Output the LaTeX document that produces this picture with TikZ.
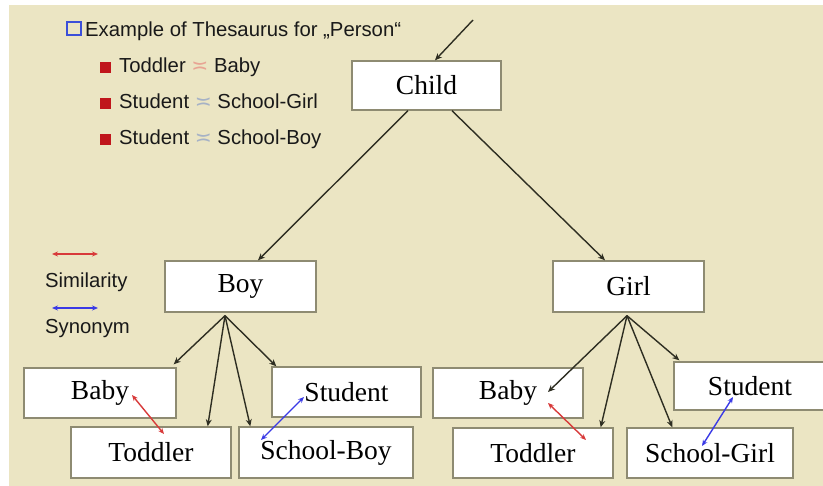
\documentclass[tikz,border=0pt]{standalone}
\usepackage{fontspec}
\setmainfont{Liberation Serif}
\newfontfamily\labelfont{Liberation Sans}
\newfontfamily\symfont{DejaVu Sans}
\usetikzlibrary{arrows.meta,calc}

\definecolor{paper}{HTML}{EBE5C3}
\definecolor{boxline}{HTML}{8E8B72}
\definecolor{linkdark}{HTML}{2E2E22}
\definecolor{simred}{HTML}{D83A3A}
\definecolor{synblue}{HTML}{3A3AE6}
\definecolor{bulletred}{HTML}{C0161C}
\definecolor{hollowblue}{HTML}{3B4FD9}
\definecolor{simfaint}{HTML}{E8A493}
\definecolor{synfaint}{HTML}{A6B2C6}

\tikzset{
  term/.style={draw=boxline, fill=white, line width=1.4pt, inner sep=0pt,
    font=\fontsize{27.5}{30}\selectfont},
  hyper/.style={draw=linkdark, line width=1.4pt,
    -{Stealth[length=7pt,width=6pt]}},
  simlink/.style={draw=simred, line width=1.4pt,
    {Stealth[length=6pt,width=5pt]}-{Stealth[length=6pt,width=5pt]}},
  synlink/.style={draw=synblue, line width=1.4pt,
    {Stealth[length=6pt,width=5pt]}-{Stealth[length=6pt,width=5pt]}},
  legendtext/.style={inner sep=0pt, anchor=base west,
    font=\labelfont\fontsize{20.3}{24}\selectfont, text=black!90},
  redbullet/.style={fill=bulletred, inner sep=0pt, minimum size=11pt, anchor=south west},
}

\begin{document}
\begin{tikzpicture}[x=1pt,y=-1pt]
  \clip (0,0) rectangle (823,486);
  \fill[white] (0,0) rectangle (823,486);
  \fill[paper] (9,5) rectangle (823,486);

  % heading and list of related terms
  \node[draw=hollowblue, line width=2pt, inner sep=0pt,
        minimum width=14pt, minimum height=13pt] (hbox) at (73.5,29) {};
  \node[legendtext] (title) at (85,36.5) {Example of Thesaurus for „Person“};

  \node[redbullet] (b1) at (100,73) {};
  \node[legendtext] (l1) at (119,73) {Toddler \textcolor{simfaint}{\symfont ≍} Baby};
  \node[redbullet] (b2) at (100,109) {};
  \node[legendtext] (l2) at (119,109) {Student \textcolor{synfaint}{\symfont ≍} School-Girl};
  \node[redbullet] (b3) at (100,145) {};
  \node[legendtext] (l3) at (119,145) {Student \textcolor{synfaint}{\symfont ≍} School-Boy};

  % key for the two kinds of links
  \coordinate (simL) at (52,254);
  \coordinate (simR) at (98,254);
  \draw[simlink] (simL) -- (simR);
  \node[legendtext] (simtext) at (45,288) {Similarity};
  \coordinate (synL) at (52,308);
  \coordinate (synR) at (98,308);
  \draw[synlink] (synL) -- (synR);
  \node[legendtext] (syntext) at (45,334) {Synonym};

  % hierarchy of terms
  \node[term, minimum width=149pt, minimum height=49pt] (child) at (426.5,85.5) {Child};
  \node[term, minimum width=151pt, minimum height=51pt] (boy)   at (240.5,286.5) {Boy};
  \node[term, minimum width=151pt, minimum height=51pt] (girl)  at (628.5,286.5) {Girl};

  \node[term, minimum width=152pt, minimum height=50pt] (babyB) at (100,393) {Baby};
  \node[term, minimum width=149pt, minimum height=50pt] (studB) at (346.5,392) {Student};
  \node[term, minimum width=160pt, minimum height=51pt] (toddB) at (151,452.5) {Toddler};
  \node[term, minimum width=174pt, minimum height=51pt] (schB)  at (326,452.5) {School-Boy};

  \node[term, minimum width=150pt, minimum height=50pt] (babyG) at (508,393) {Baby};
  \node[term, minimum width=152pt, minimum height=48pt] (studG) at (750,386) {Student};
  \node[term, minimum width=160pt, minimum height=50pt] (toddG) at (533,453) {Toddler};
  \node[term, minimum width=166pt, minimum height=50pt] (schG)  at (710,453) {School-Girl};

  % broader-term links
  \coordinate (above) at (473,20);
  \draw[hyper] (above) -- ($(child.north)+(8.5,0)$);
  \draw[hyper] ($(child.south)+(-18.5,0)$) -- ($(boy.north)+(17.5,0)$);
  \draw[hyper] ($(child.south)+(25.5,0)$) -- ($(girl.north)+(-23.5,0)$);

  \draw[hyper] ($(boy.south)+(-15.5,3)$) -- ($(babyB.north east)+(-3,-3)$);
  \draw[hyper] ($(boy.south)+(-15.5,3)$) -- ($(toddB.north east)+(-24,0)$);
  \draw[hyper] ($(boy.south)+(-15.5,3)$) -- ($(schB.north west)+(12,0)$);
  \draw[hyper] ($(boy.south)+(-15.5,3)$) -- ($(studB.north west)+(5,0)$);

  \draw[hyper] ($(girl.south)+(-1.5,3)$) -- ($(babyG.center)+(40,-1)$);
  \draw[hyper] ($(girl.south)+(-1.5,3)$) -- ($(toddG.north east)+(-13,0)$);
  \draw[hyper] ($(girl.south)+(-1.5,3)$) -- ($(schG.north west)+(46,0)$);
  \draw[hyper] ($(girl.south)+(-1.5,3)$) -- ($(studG.north west)+(6,-1)$);

  % similarity and synonym links
  \draw[simlink] ($(babyB.center)+(32,2)$) -- ($(toddB.center)+(13,-18.5)$);
  \draw[synlink] ($(studB.center)+(-42.5,5)$) -- ($(schB.center)+(-65,-12.5)$);
  \draw[simlink] ($(babyG.center)+(40,10)$) -- ($(toddG.center)+(53,-13)$);
  \draw[synlink] ($(studG.center)+(-17,11)$) -- ($(schG.center)+(-8,-7)$);
\end{tikzpicture}
\end{document}
